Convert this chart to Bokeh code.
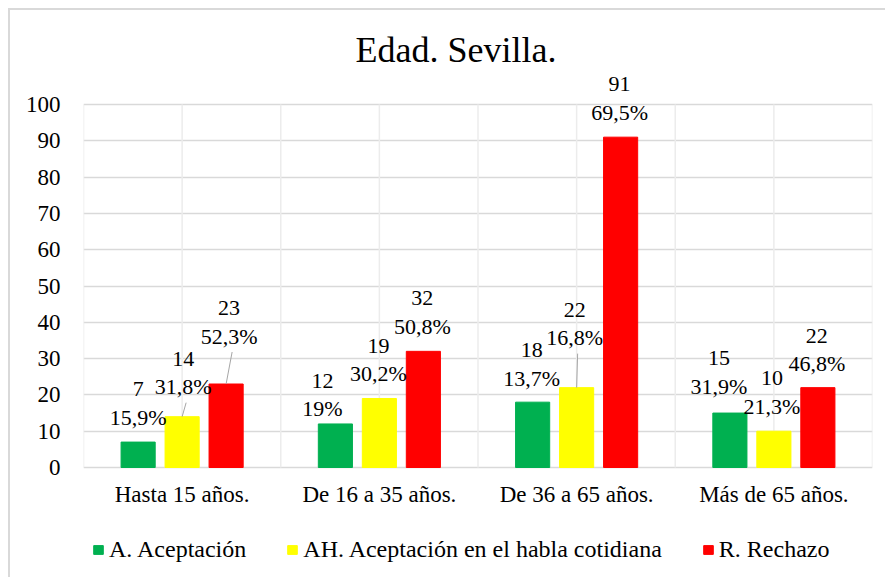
from bokeh.plotting import figure
from bokeh.models import (ColumnDataSource, Range1d, FixedTicker, Label,
                          Legend, LegendItem)
from bokeh.embed import file_html
from bokeh.resources import INLINE

# ---------------- data ----------------
categories = ["Hasta 15 años.", "De 16 a 35 años.", "De 36 a 65 años.", "Más de 65 años."]
series_names = ["A. Aceptación", "AH. Aceptación en el habla cotidiana", "R. Rechazo"]
aceptacion = [7, 12, 18, 15]
habla = [14, 19, 22, 10]
rechazo = [23, 32, 91, 22]
pct_aceptacion = ["15,9%", "19%", "13,7%", "31,9%"]
pct_habla = ["31,8%", "30,2%", "16,8%", "21,3%"]
pct_rechazo = ["52,3%", "50,8%", "69,5%", "46,8%"]
y_ticks = list(range(0, 101, 10))
title_text = "Edad. Sevilla."

# ---------------- style ----------------
colors = ["#00B050", "#FFFF00", "#FF0000"]
FONT = "Liberation Serif"
FRAME_W = 789
PLOT_H = 363          # pixel height of the 0..100 value span
EXTRA_TOP = 78        # room above 100 for title and the tallest label
EXTRA_BOTTOM = 106    # room below 0 for category labels and legend
BAR_W = 0.173
BAR_STEP = 0.223
# label placement (pixels): horizontal shift and height of the % line above bar top
label_dx = [[0, -13, -1, -11], [1, -1, -2, -2], [3, -1, -1, -1]]
label_up = [[25, 15, 24, 27], [30, 25, 50, 25], [48, 25, 25, 24]]
LINE_GAP = 28
leaders = [[False, False, False, False], [True, False, True, False], [True, False, False, False]]

values = [aceptacion, habla, rechazo]
pcts = [pct_aceptacion, pct_habla, pct_rechazo]
n = len(categories)
ymax = y_ticks[-1]
xs = FRAME_W / n
ys = PLOT_H / ymax
frame_h = PLOT_H + EXTRA_TOP + EXTRA_BOTTOM
y_top = ymax + EXTRA_TOP / ys
y_bottom = -EXTRA_BOTTOM / ys

p = figure(frame_width=FRAME_W, frame_height=frame_h,
           x_range=Range1d(0, n), y_range=Range1d(y_bottom, y_top),
           output_backend="svg", toolbar_location=None,
           min_border_left=73, min_border_right=13, min_border_top=16, min_border_bottom=4)
p.styles = {"margin-left": "8px", "margin-top": "8px",
            "border-left": "2px solid #d9d9d9", "border-top": "2px solid #d9d9d9"}
p.outline_line_color = None
p.background_fill_color = "white"
p.border_fill_color = "white"

# grid
p.ygrid.ticker = FixedTicker(ticks=y_ticks)
p.ygrid.grid_line_color = "#d9d9d9"
p.ygrid.grid_line_width = 1.5
p.xgrid.grid_line_color = None
grid_x = [i / 2 for i in range(2 * n + 1)]
p.segment(x0=grid_x, y0=[0] * len(grid_x), x1=grid_x, y1=[ymax] * len(grid_x),
          line_color="#ececec", line_width=1.5)

# axes
for ax in (p.xaxis, p.yaxis):
    ax.axis_line_color = None
    ax.major_tick_line_color = None
    ax.minor_tick_line_color = None
    ax.major_tick_out = 0
    ax.major_tick_in = 0
    ax.major_label_text_font = FONT
    ax.major_label_text_font_size = "23px"
    ax.major_label_text_color = "black"
p.yaxis.ticker = FixedTicker(ticks=y_ticks)
p.yaxis.major_label_standoff = 23
p.xaxis.ticker = FixedTicker(ticks=[i + 0.5 for i in range(n)])
p.xaxis.major_label_overrides = {i + 0.5: c for i, c in enumerate(categories)}
p.xaxis.major_label_standoff = 14
p.xaxis.fixed_location = 0

renderers = []
for s in range(3):
    xpos = [i + 0.5 + (s - 1) * BAR_STEP for i in range(n)]
    src = ColumnDataSource(dict(x=xpos, top=values[s]))
    r = p.vbar(x="x", top="top", width=BAR_W, source=src,
               fill_color=colors[s], line_color=colors[s])
    renderers.append(r)
    # data labels: value on the first line, percentage on the second
    for i in range(n):
        for txt, up in ((str(values[s][i]), label_up[s][i] + LINE_GAP),
                        (pcts[s][i], label_up[s][i])):
            p.add_layout(Label(x=xpos[i], y=values[s][i], x_offset=label_dx[s][i], y_offset=up,
                               text=txt, text_align="center", text_baseline="middle",
                               text_font=FONT, text_font_size="22px", text_color="black"))
    # leader lines for displaced labels
    lx0, ly0, lx1, ly1 = [], [], [], []
    for i in range(n):
        if leaders[s][i]:
            lx0.append(xpos[i] + (label_dx[s][i] + 3) / xs)
            ly0.append(values[s][i] + (label_up[s][i] - 16) / ys)
            lx1.append(xpos[i])
            ly1.append(values[s][i])
    if lx0:
        p.segment(x0=lx0, y0=ly0, x1=lx1, y1=ly1, line_color="#a6a6a6", line_width=1)

# title
title = Label(x=n / 2, y=ymax, x_offset=-22, y_offset=55, text=title_text,
              text_align="center", text_baseline="middle",
              text_font=FONT, text_font_size="36px", text_color="black")
p.add_layout(title)

legend = Legend(items=[LegendItem(label=series_names[s], renderers=[renderers[s]]) for s in range(3)],
                orientation="horizontal", location=(9, 10))
legend.label_text_font = FONT
legend.label_text_font_size = "24px"
legend.label_text_color = "black"
legend.glyph_width = 12
legend.glyph_height = 11
legend.label_standoff = 5
legend.spacing = 40
legend.padding = 0
legend.margin = 0
legend.border_line_color = None
legend.background_fill_alpha = 0
p.add_layout(legend)

open("out.html", "w").write(file_html(p, INLINE))
